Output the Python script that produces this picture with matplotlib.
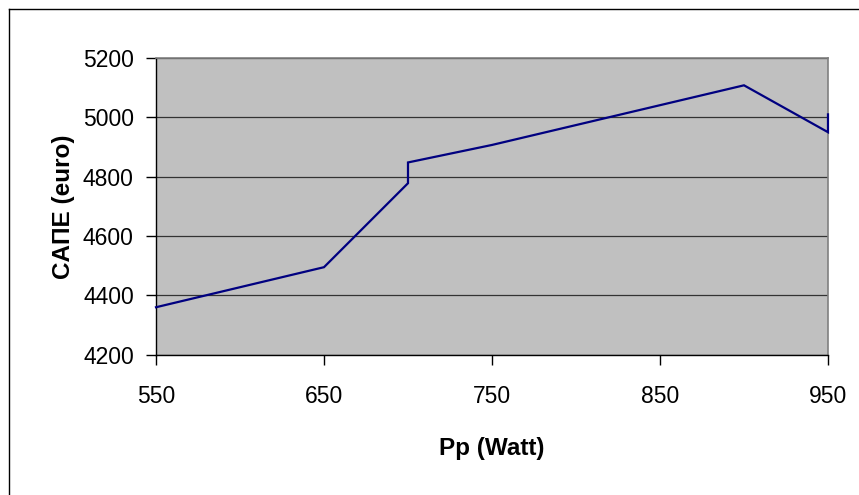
import matplotlib
matplotlib.use('Agg')
import matplotlib.pyplot as plt
from matplotlib.lines import Line2D

# Cost vs. panel power (vertical steps at 700 W and 950 W)
power_w = [550, 650, 700, 700, 750, 900, 950, 950]
cost_eur = [4360, 4495, 4778, 4848, 4907, 5108, 4950, 5010]

x_ticks = [550, 650, 750, 850, 950]
y_ticks = [4200, 4400, 4600, 4800, 5000, 5200]

plt.rcParams['font.family'] = ['Liberation Sans', 'DejaVu Sans']

fig = plt.figure(figsize=(8.59, 4.95), dpi=100)
fig.patch.set_facecolor('white')

ax = fig.add_axes([0.1816, 0.2834, 0.7823, 0.5994])
ax.set_facecolor('#c0c0c0')

ax.plot(power_w, cost_eur, color='#000080', lw=1.6, solid_joinstyle='miter',
        clip_on=False, zorder=3)

ax.set_xlim(550, 950)
ax.set_ylim(4200, 5200)
ax.set_xticks(x_ticks)
ax.set_yticks(y_ticks)
ax.yaxis.grid(True, color='#333333', lw=0.9)
ax.set_axisbelow(True)

ax.tick_params(axis='both', direction='out', length=7, width=1, color='black',
               labelsize=16.5)
ax.tick_params(axis='x', pad=15)
ax.tick_params(axis='y', pad=9)

for side in ('top', 'right'):
    ax.spines[side].set_color('#808080')
    ax.spines[side].set_linewidth(1.2)
for side in ('left', 'bottom'):
    ax.spines[side].set_color('black')
    ax.spines[side].set_linewidth(1.0)

ax.set_xlabel('Pp (Watt)', fontsize=17.5, fontweight='bold', va='center')
ax.xaxis.set_label_coords(0.5, -0.317)
ax.set_ylabel('CAΠE (euro)', fontsize=17.5, fontweight='bold', va='center')
ax.yaxis.set_label_coords(-0.138, 0.5)

# chart frame (left and top edges)
fig.add_artist(Line2D([8.5 / 859, 8.5 / 859], [0, 1 - 8.5 / 495],
                      transform=fig.transFigure, color='black', lw=1))
fig.add_artist(Line2D([8.5 / 859, 1], [1 - 8.5 / 495, 1 - 8.5 / 495],
                      transform=fig.transFigure, color='black', lw=1))

fig.savefig('out.png', dpi=100)
